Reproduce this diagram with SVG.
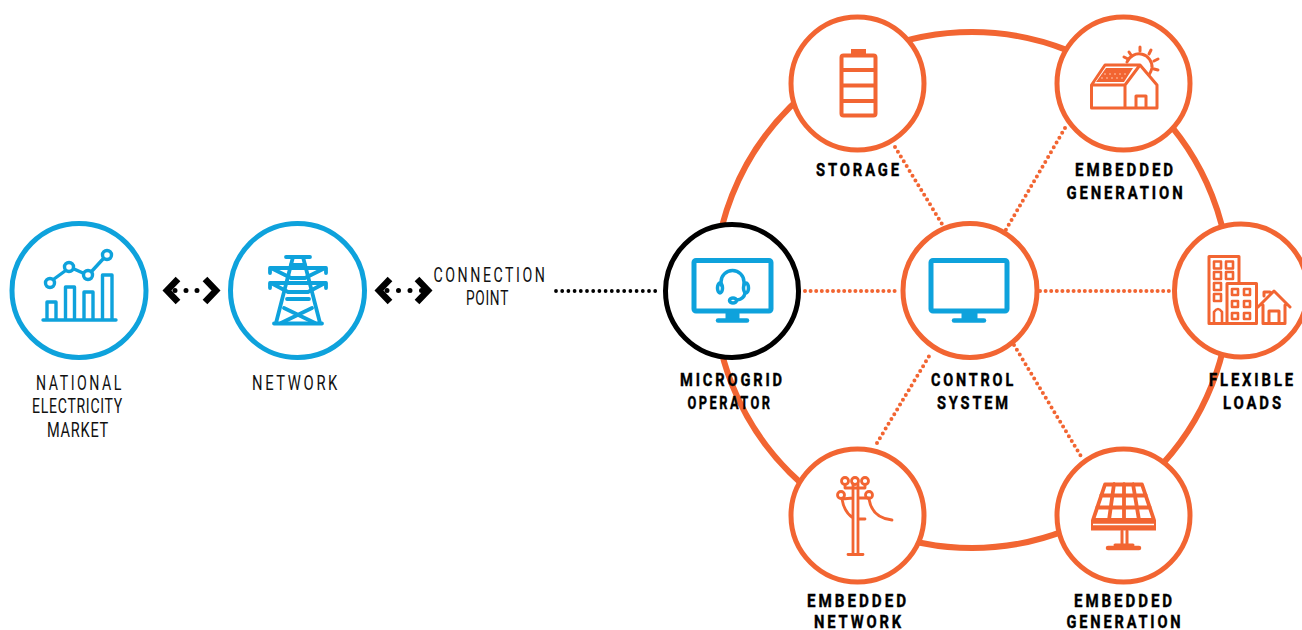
<svg xmlns="http://www.w3.org/2000/svg" width="1302" height="630" viewBox="0 0 1302 630">
<style>
.c{fill:#fff;stroke-width:5}
.o{stroke:#f26532}.b{stroke:#0ea2dc}.k{stroke:#000}
.i{fill:none;stroke-linejoin:round;stroke-linecap:round}
.t{font-family:"Roboto","Liberation Sans",sans-serif;font-size:19.5px;fill:#111;letter-spacing:3.500px}
.n{letter-spacing:1px}
.h{font-weight:bold;font-size:18px;letter-spacing:3.500px;fill:#000;stroke:#000;stroke-width:.4px}
.d{fill:none;stroke-linecap:round}
.ch{fill:none;stroke:#000;stroke-width:6.500;stroke-linecap:butt;stroke-linejoin:miter}
</style>
<rect width="1302" height="630" fill="#fff"/>
<g id="connectors">
<circle cx="972" cy="290" r="258" fill="none" stroke="#f26532" stroke-width="6"/>
<path class="d o" stroke-width="4" stroke-dasharray="0 5.600" d="M805 291H900M1040 291H1175M895 147L942 224M1065 128L1004 233M877 443L931 353M1014 345L1082 458"/>
<path class="d k" stroke-width="3.800" stroke-dasharray="0 6.200" d="M556 291H660"/>
<path class="ch" d="M178 279L167 290.500L178 302M205 279L216 290.500L205 302"/>
<path class="d k" stroke-width="5" stroke-dasharray="0 11" d="M175 290.500H208"/>
<path class="ch" d="M390 279L379 290.500L390 302M417 279L428 290.500L417 302"/>
<path class="d k" stroke-width="5" stroke-dasharray="0 11.500" d="M387 290.500H422"/>
</g>
<g id="market">
<circle class="c b" cx="79" cy="290.500" r="67"/>
<g class="i b" stroke-width="3.400">
<path d="M43 320H116M47 319V302H56V319M65.500 319V287H74.500V319M84 319V292H93V319M102.500 319V275H112V319"/>
<path d="M54 279L65 271M74 269L83 273M92 271L103 259"/>
<circle cx="50" cy="283" r="4.500"/><circle cx="69" cy="267" r="4.500"/><circle cx="88" cy="275" r="4.500"/><circle cx="107" cy="255" r="4.500"/>
</g>
<text class="t" x="36" y="390" textLength="88" lengthAdjust="spacingAndGlyphs">NATIONAL</text>
<text class="t n" x="32" y="413" textLength="91" lengthAdjust="spacingAndGlyphs">ELECTRICITY</text>
<text class="t n" x="47" y="436.500" textLength="62" lengthAdjust="spacingAndGlyphs">MARKET</text>
</g>
<g id="network">
<circle class="c b" cx="297.500" cy="290.500" r="67"/>
<g class="i b" stroke-width="3.800">
<path d="M286 257H310M293 257L276 323M303 257L320 323M274 323.500H322"/>
<path d="M270 273V268H326V273M270 288V283H326V288"/>
<path d="M271 268L291 278H305L325 268M271 283L288 292H308L325 283"/>
<path d="M291 265H305M287 299H309M284 308L315 323M312 308L281 323"/>
</g>
<text class="t" x="252" y="390" textLength="88" lengthAdjust="spacingAndGlyphs">NETWORK</text>
</g>
<g id="connection-point">
<text class="t" x="433.500" y="281.500" textLength="114" lengthAdjust="spacingAndGlyphs">CONNECTION</text>
<text class="t n" x="466" y="305" textLength="43" lengthAdjust="spacingAndGlyphs">POINT</text>
</g>
<g id="microgrid-operator">
<circle class="c k" cx="732" cy="291" r="66.500"/>
<g class="i b" stroke-width="3.500">
<rect x="694" y="260.500" width="77" height="50.500" stroke-width="5" rx="2"/>
<path d="M732.500 312V319" stroke-width="14" stroke-linecap="butt"/>
<path d="M718 320.500H747" stroke-width="4.500"/>
<path d="M721 285V282A11.500 11.500 0 0 1 744 282V285M745 293Q744 299 737 300"/>
<ellipse cx="720" cy="288" rx="2.500" ry="5"/><ellipse cx="746" cy="288" rx="2.500" ry="5"/>
<ellipse cx="733" cy="300.500" rx="3.500" ry="2.500"/>
</g>
<text class="t h" x="680" y="386" textLength="105" lengthAdjust="spacingAndGlyphs">MICROGRID</text>
<text class="t h" x="687.500" y="409" textLength="85" lengthAdjust="spacingAndGlyphs">OPERATOR</text>
</g>
<g id="control-system">
<circle class="c o" cx="970" cy="290.500" r="67"/>
<g class="i b" stroke-width="5">
<rect x="931" y="260.500" width="76" height="50.500" rx="2"/>
<path d="M969.500 312V319" stroke-width="16" stroke-linecap="butt"/>
<path d="M954 320.500H984" stroke-width="4.500"/>
</g>
<text class="t h" x="931" y="386" textLength="85" lengthAdjust="spacingAndGlyphs">CONTROL</text>
<text class="t h" x="937" y="409" textLength="74" lengthAdjust="spacingAndGlyphs">SYSTEM</text>
</g>
<g id="storage">
<circle class="c o" cx="857.500" cy="83.500" r="66.500"/>
<g class="i o" stroke-width="4">
<rect x="841.500" y="55.500" width="34" height="60" rx="2"/>
<path d="M842 70H875M842 85.500H875M842 101H875"/>
</g>
<rect x="851" y="49" width="15" height="6" fill="#f26532"/>
<text class="t h" x="816" y="176" textLength="86" lengthAdjust="spacingAndGlyphs">STORAGE</text>
</g>
<g id="embedded-generation-top">
<circle class="c o" cx="1123.500" cy="83.500" r="66.500"/>
<g class="i o" stroke-width="3">
<path d="M1127 62A13 13 0 0 1 1152 68Q1151 72 1149 75"/>
<path d="M1129 52L1131 55M1140 47V51M1151 50L1149 54M1158 59L1154 61M1158 70L1154 69M1124 57L1128 59"/>
<path d="M1091.500 85L1105 65H1140L1157 85V108H1091.500ZM1091.500 85H1125M1125 108V85L1140 65M1136 108V96H1146V108"/>
</g>
<path d="M1096 82L1106 68H1133L1124 82Z" fill="#f26532"/>
<path d="M1104 74H1126M1101 78H1124" stroke="#ffc4a8" stroke-width="1" stroke-dasharray="2 3" fill="none"/>
<text class="t h" x="1075" y="176" textLength="101" lengthAdjust="spacingAndGlyphs">EMBEDDED</text>
<text class="t h" x="1066.500" y="199" textLength="119" lengthAdjust="spacingAndGlyphs">GENERATION</text>
</g>
<g id="flexible-loads">
<circle class="c o" cx="1241" cy="290.500" r="66.500"/>
<g class="i o" stroke-width="3">
<path d="M1227 323.500H1209V256.500H1239V283"/>
<path d="M1227 283.500H1256.500V323.500H1227ZM1238 323.500H1222"/>
<path d="M1214 261.500h7v7h-7ZM1226 261.500h7v7h-7ZM1214 272h7v7h-7ZM1226 272h7v7h-7ZM1214 283h7v7h-7ZM1214 294h7v7h-7ZM1214 323V312Q1218 306 1222 312V323" stroke-width="2.600"/>
<path d="M1232 289h6v6h-6ZM1244 289h6v6h-6ZM1232 301h6v6h-6ZM1244 301h6v6h-6ZM1232 313h6v6h-6ZM1244 313h6v6h-6Z" stroke-width="2.600"/>
<path d="M1258 307L1274 291L1290 307M1263 305V323.500H1285V305M1269 323V311H1279V323M1264 296V292H1270"/>
</g>
<text class="t h" x="1209" y="386" textLength="87" lengthAdjust="spacingAndGlyphs">FLEXIBLE</text>
<text class="t h" x="1223" y="409" textLength="61" lengthAdjust="spacingAndGlyphs">LOADS</text>
</g>
<g id="embedded-network">
<circle class="c o" cx="857.500" cy="515.500" r="66.500"/>
<g class="i o" stroke-width="2.800">
<circle cx="845" cy="481" r="3.500"/><circle cx="855" cy="481" r="3.500"/><circle cx="865" cy="481" r="3.500"/>
<circle cx="841" cy="495" r="3.500"/><circle cx="869" cy="495" r="3.500"/>
<path d="M853 484V554M858 484V554M848 554.500H863M845 488H865M845 485V488M865 485V488M842 499L853 498M858 498L869 498M842 499Q844 512 853 518M858 519H865M869 499Q872 518 892 520"/>
</g>
<text class="t h" x="807" y="606.500" textLength="102" lengthAdjust="spacingAndGlyphs">EMBEDDED</text>
<text class="t h" x="814" y="627.500" textLength="90" lengthAdjust="spacingAndGlyphs">NETWORK</text>
</g>
<g id="embedded-generation-bottom">
<circle class="c o" cx="1123.500" cy="515.500" r="66.500"/>
<g class="i o" stroke-width="3.800">
<path d="M1105 484.500H1142L1154 520H1093ZM1101 495.500H1146M1097 507.500H1150M1114 484L1109 520M1124 484V520M1133 484L1139 520"/>
<path d="M1122 531V545M1127 531V545" stroke-width="3"/>
<path d="M1115 545H1133" stroke-width="3"/>
<path d="M1108 548H1139" stroke-width="4.500"/>
</g>
<rect x="1091" y="520" width="65" height="10.500" fill="#f26532"/>
<path d="M1093 524.500H1154" stroke="#fff" stroke-width="1.500"/>
<text class="t h" x="1074" y="606.500" textLength="101" lengthAdjust="spacingAndGlyphs">EMBEDDED</text>
<text class="t h" x="1066.500" y="627.500" textLength="117" lengthAdjust="spacingAndGlyphs">GENERATION</text>
</g>
</svg>
